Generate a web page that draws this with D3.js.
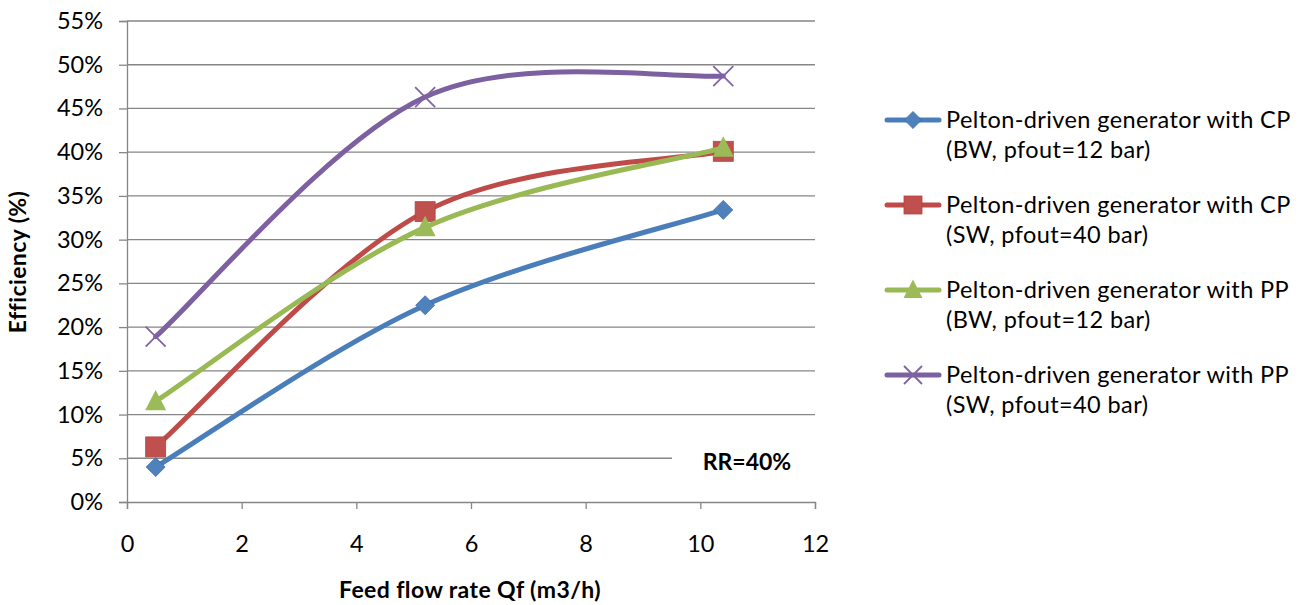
<!DOCTYPE html>
<html>
<head>
<meta charset="utf-8">
<script src="https://cdn.jsdelivr.net/npm/d3@7"></script>
<style>
  html, body { margin: 0; padding: 0; background: #fff; }
  svg { display: block; font-family: Lato, "Open Sans", sans-serif; }
</style>
</head>
<body>
<svg id="chart" width="1309" height="605"></svg>
<script>
// Feed flow rates (m3/h)
const flowRates = [0.5, 5.2, 10.4];

// Efficiency (%) for each generator configuration
const cpBW = [4.0, 22.5, 33.4];
const cpSW = [6.3, 33.2, 40.1];
const ppBW = [11.5, 31.4, 40.5];
const ppSW = [18.9, 46.3, 48.7];

const seriesNames = [
  ["Pelton-driven generator with CP", "(BW, pfout=12 bar)"],
  ["Pelton-driven generator with CP", "(SW, pfout=40 bar)"],
  ["Pelton-driven generator with PP", "(BW, pfout=12 bar)"],
  ["Pelton-driven generator with PP", "(SW, pfout=40 bar)"]
];
const seriesValues = [cpBW, cpSW, ppBW, ppSW];
const lineColors = ["#4A7EBB", "#BE4B48", "#98B954", "#7D60A0"];
const markerColors = ["#4F81BD", "#C0504D", "#9BBB59", "#8064A2"];
const markerKinds = ["diamond", "square", "triangle", "cross"];

const xTicks = [0, 2, 4, 6, 8, 10, 12];
const yTicks = [0, 5, 10, 15, 20, 25, 30, 35, 40, 45, 50, 55];

const FONT = "Lato, 'Open Sans', sans-serif";
const svg = d3.select("#chart");
const plotLeft = 127, plotRight = 815, plotTop = 21, plotBottom = 502;

const x = d3.scaleLinear().domain([0, 12]).range([plotLeft, plotRight]);
const y = d3.scaleLinear().domain([0, 55]).range([plotBottom, plotTop]);

const gridColor = "#868686";

// horizontal gridlines
svg.append("g").selectAll("line")
  .data(yTicks.filter(t => t > 0))
  .join("line")
  .attr("x1", plotLeft).attr("x2", plotRight)
  .attr("y1", d => y(d)).attr("y2", d => y(d))
  .attr("stroke", gridColor).attr("stroke-width", 1.3);

// y axis
const yAxis = svg.append("g")
  .attr("transform", `translate(${plotLeft},0)`)
  .call(d3.axisLeft(y).tickValues(yTicks).tickFormat(d => d + "%").tickSize(8).tickPadding(16));
yAxis.attr("font-family", FONT).attr("font-size", 23.5);
yAxis.select(".domain").attr("stroke", gridColor).attr("stroke-width", 1.3);
yAxis.selectAll(".tick line").attr("stroke", gridColor).attr("stroke-width", 1.3);
yAxis.selectAll(".tick text").attr("fill", "#000");

// x axis
const xAxis = svg.append("g")
  .attr("transform", `translate(0,${plotBottom})`)
  .call(d3.axisBottom(x).tickValues(xTicks).tickSize(7).tickPadding(26));
xAxis.attr("font-family", FONT).attr("font-size", 23.5);
xAxis.select(".domain").attr("stroke", gridColor).attr("stroke-width", 1.3);
xAxis.selectAll(".tick line").attr("stroke", gridColor).attr("stroke-width", 1.3);
xAxis.selectAll(".tick text").attr("fill", "#000");

// recovery ratio note, boxed over the gridlines
const note = svg.append("g");
note.append("rect")
  .attr("x", 672).attr("y", 440).attr("width", 146).attr("height", 44)
  .attr("fill", "#fff");
note.append("text")
  .attr("x", 747).attr("y", 470)
  .attr("text-anchor", "middle")
  .attr("font-size", 23).attr("font-weight", "bold")
  .text("RR=40%");

// smoothed line: cubic Bezier segments with control points at one sixth
// of the neighbouring chord, end points repeated at both ends
function smoothPath(pts) {
  const p = d3.path();
  const P = pts.map(d => [x(d[0]), y(d[1])]);
  const n = P.length;
  p.moveTo(P[0][0], P[0][1]);
  for (let i = 0; i < n - 1; i++) {
    const p0 = P[Math.max(i - 1, 0)], p1 = P[i], p2 = P[i + 1], p3 = P[Math.min(i + 2, n - 1)];
    p.bezierCurveTo(
      p1[0] + (p2[0] - p0[0]) / 6, p1[1] + (p2[1] - p0[1]) / 6,
      p2[0] - (p3[0] - p1[0]) / 6, p2[1] - (p3[1] - p1[1]) / 6,
      p2[0], p2[1]);
  }
  return p.toString();
}

function drawMarker(g, kind, color, cx, cy, s) {
  if (kind === "diamond") {
    g.append("path")
      .attr("d", `M${cx},${cy - s}L${cx + s},${cy}L${cx},${cy + s}L${cx - s},${cy}Z`)
      .attr("fill", color).attr("stroke", "#3F6FA8").attr("stroke-width", 0.8);
  } else if (kind === "square") {
    g.append("rect")
      .attr("x", cx - s).attr("y", cy - s).attr("width", 2 * s).attr("height", 2 * s)
      .attr("fill", color).attr("stroke", "#B5433F").attr("stroke-width", 0.8);
  } else if (kind === "triangle") {
    g.append("path")
      .attr("d", `M${cx},${cy - s * 1.1}L${cx + s},${cy + s * 0.85}L${cx - s},${cy + s * 0.85}Z`)
      .attr("fill", color);
  } else {
    g.append("path")
      .attr("d", `M${cx - s},${cy - s}L${cx + s},${cy + s}M${cx - s},${cy + s}L${cx + s},${cy - s}`)
      .attr("stroke", color).attr("stroke-width", 1.8).attr("fill", "none");
  }
}
const markerSizes = [9.5, 10, 10.5, 10];

seriesValues.forEach((vals, i) => {
  const pts = flowRates.map((f, j) => [f, vals[j]]);
  const g = svg.append("g");
  g.append("path")
    .attr("d", smoothPath(pts))
    .attr("fill", "none")
    .attr("stroke", lineColors[i])
    .attr("stroke-width", 5)
    .attr("stroke-linecap", "round");
  pts.forEach(p => drawMarker(g, markerKinds[i], markerColors[i], x(p[0]), y(p[1]), markerSizes[i]));
});

// legend
const legend = svg.append("g");
seriesNames.forEach((name, i) => {
  const ly = 120 + i * 85;
  const g = legend.append("g");
  g.append("line")
    .attr("x1", 887).attr("x2", 939).attr("y1", ly).attr("y2", ly)
    .attr("stroke", lineColors[i]).attr("stroke-width", 5).attr("stroke-linecap", "round");
  drawMarker(g, markerKinds[i], markerColors[i], 913, ly, markerSizes[i] * 0.9);
  const t = g.append("text")
    .attr("x", 946).attr("y", ly + 8)
    .attr("font-size", 23.5).attr("letter-spacing", 0.4).attr("fill", "#000");
  t.append("tspan").attr("x", 946).text(name[0]);
  t.append("tspan").attr("x", 946).attr("dy", 30).text(name[1]);
});

// axis titles
svg.append("text")
  .attr("x", 470).attr("y", 598)
  .attr("text-anchor", "middle")
  .attr("font-size", 23).attr("letter-spacing", 0.4).attr("font-weight", "bold")
  .text("Feed flow rate Qf (m3/h)");

svg.append("text")
  .attr("transform", "translate(26,262) rotate(-90)")
  .attr("text-anchor", "middle")
  .attr("font-size", 23).attr("letter-spacing", 0.4).attr("font-weight", "bold")
  .text("Efficiency (%)");
</script>
</body>
</html>
